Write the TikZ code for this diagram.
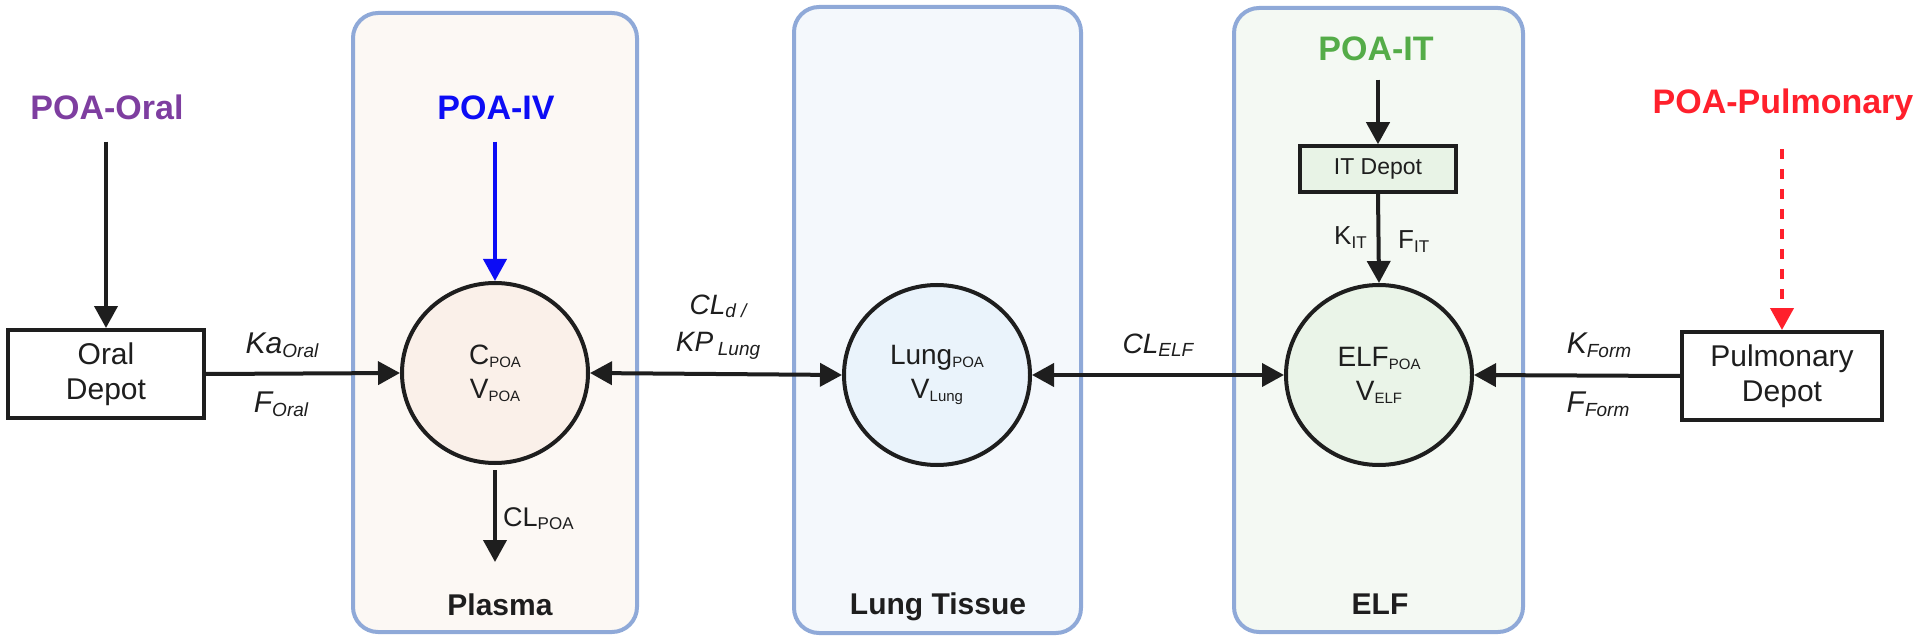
\documentclass[tikz,border=0pt]{standalone}
\usepackage{fontspec}
\setmainfont{Liberation Sans}
\usetikzlibrary{arrows.meta,shapes.geometric}
\definecolor{ink}{RGB}{30,30,30}
\definecolor{secborder}{RGB}{143,169,216}
\definecolor{plasmabg}{RGB}{252,248,244}
\definecolor{plasmacirc}{RGB}{250,240,233}
\definecolor{lungbg}{RGB}{244,248,252}
\definecolor{lungcirc}{RGB}{234,243,251}
\definecolor{elfbg}{RGB}{244,249,243}
\definecolor{elfcirc}{RGB}{234,244,232}
\definecolor{itfill}{RGB}{232,243,230}
\definecolor{oralc}{RGB}{126,62,160}
\definecolor{ivc}{RGB}{12,12,245}
\definecolor{itc}{RGB}{84,172,72}
\definecolor{pulmc}{RGB}{255,32,44}
\newcommand{\fsz}[1]{\fontsize{#1}{#1}\selectfont}
\newcommand{\sbx}[3][3pt]{\raisebox{-#1}{\fsz{#2}#3}}
\begin{document}
\begin{tikzpicture}[x=1pt,y=-1pt,
  secbox/.style={draw=secborder, line width=4pt, rounded corners=25pt, inner sep=0pt},
  comp/.style={ellipse, draw=ink, line width=4pt, minimum width=186pt, minimum height=180pt, inner sep=0pt, align=center, text=ink, font=\fontsize{28}{34}\selectfont},
  depot/.style={draw=ink, line width=4pt, fill=white, inner sep=0pt, align=center, text=ink, font=\fontsize{30}{35}\selectfont},
  title/.style={inner sep=0pt, font=\bfseries\fsz{34}},
  seclab/.style={inner sep=0pt, text=ink, font=\bfseries\fsz{30}, anchor=base},
  lab/.style={inner sep=0pt, text=ink, font=\itshape\fsz{30}},
  ulab/.style={inner sep=0pt, text=ink, font=\fsz{27}},
  arr/.style={draw=ink, line width=4pt, -{Triangle[length=22pt,width=23pt]}},
  arr2/.style={draw=ink, line width=4pt, {Triangle[length=22pt,width=23pt]}-{Triangle[length=22pt,width=23pt]}}
]
\useasboundingbox (0,0) rectangle (1920,639);

% compartments backgrounds
\node[secbox, fill=plasmabg, minimum width=284pt, minimum height=619pt] (plasmabox) at (495,322.5) {};
\node[secbox, fill=lungbg, minimum width=287pt, minimum height=626pt] (lungbox) at (937.5,320) {};
\node[secbox, fill=elfbg, minimum width=289pt, minimum height=624pt] (elfbox) at (1378.5,320) {};

\node[seclab] (plasmalab) at (500,615) {Plasma};
\node[seclab] (lunglab) at (938,614) {Lung Tissue};
\node[seclab] (elflab) at (1380,614) {ELF};

% circles
\node[comp, fill=plasmacirc] (plasma) at (495,373) {C\sbx{15}{POA}\\V\sbx{15}{POA}};
\node[comp, fill=lungcirc] (lung) at (937,375) {Lung\sbx{15}{POA}\\V\sbx{15}{Lung}};
\node[comp, fill=elfcirc] (elf) at (1379,375) {ELF\sbx{15}{POA}\\V\sbx{15}{ELF}};

% depots
\node[depot, minimum width=196pt, minimum height=88pt] (oral) at (106,374) {Oral\\Depot};
\node[depot, minimum width=200pt, minimum height=88pt] (pulm) at (1782,376) {Pulmonary\\Depot};
\node[depot, fill=itfill, line width=3.5pt, minimum width=156pt, minimum height=46pt, font=\fsz{23}] (itdepot) at (1378,169) {IT Depot};

% titles
\node[title, text=oralc, anchor=base] (poaoral) at (107,120) {POA-Oral};
\node[title, text=ivc, anchor=base] (poaiv) at (496,120) {POA-IV};
\node[title, text=itc, anchor=base] (poait) at (1376,61) {POA-IT};
\node[title, text=pulmc, anchor=base] (poapulm) at (1783,114) {POA-Pulmonary};

% arrows
\draw[arr, shorten <=21pt] (poaoral.south -| oral.north) -- (oral.north);
\draw[arr, draw=ivc, shorten <=21pt] (poaiv.south -| plasma.north) -- (plasma.north);
\draw[arr, shorten <=18pt] (poait.south -| itdepot.north) -- (itdepot.north);
\draw[arr, draw=pulmc, dash pattern=on 10pt off 10pt, shorten <=28pt] (poapulm.south -| pulm.north) -- (pulm.north);
\draw[arr] (itdepot.south) -- (elf.north);
\draw[arr] (oral.east) -- (plasma.west);
\draw[arr2] (plasma.east) -- (lung.west);
\draw[arr2] (lung.east) -- (elf.west);
\draw[arr] (pulm.west) -- (elf.east);
\coordinate (clend) at (495,562);
\draw[arr, shorten <=5pt] (plasma.south) -- (clend);

% labels
\node[lab, anchor=base] (kaoral) at (282,353) {Ka\sbx[4pt]{19}{Oral}};
\node[lab, anchor=base] (foral) at (281,412) {F\sbx[4pt]{19}{Oral}};
\node[ulab, anchor=base west] (clpoa) at (503,526) {CL\sbx{17}{POA}};
\node[lab, font=\itshape\fsz{28}, anchor=base] (cld) at (718,314) {CL\sbx{19}{d /}};
\node[lab, font=\itshape\fsz{28}, anchor=base] (kplung) at (718,351) {KP\,\sbx[4pt]{19}{Lung}};
\node[lab, font=\itshape\fsz{28}, anchor=base] (clelf) at (1158,353) {CL\sbx{19}{ELF}};
\node[ulab, font=\fsz{26}, anchor=base west] (kit) at (1334,245) {K\sbx{17}{IT}};
\node[ulab, font=\fsz{26}, anchor=base west] (fit) at (1398,249) {F\sbx{17}{IT}};
\node[lab, anchor=base] (kform) at (1599,353) {K\sbx[4pt]{19}{Form}};
\node[lab, anchor=base] (fform) at (1598,412) {F\sbx[4pt]{19}{Form}};
\end{tikzpicture}
\end{document}
